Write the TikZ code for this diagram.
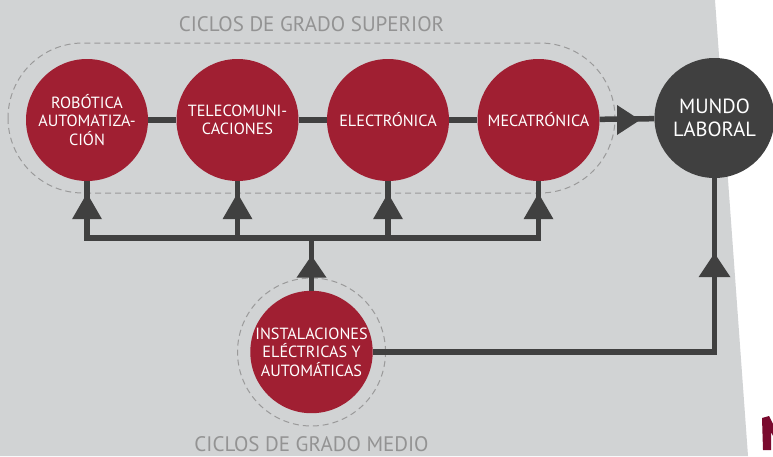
\documentclass[tikz,border=0pt]{standalone}
\usepackage{fontspec}
\setmainfont{PT Sans}
\usetikzlibrary{calc}
\definecolor{bg}{HTML}{D1D3D4}
\definecolor{wine}{HTML}{A01F32}
\definecolor{dark}{HTML}{404040}
\definecolor{dashgray}{HTML}{9A9A9A}
\definecolor{capgray}{HTML}{939393}
\definecolor{maroon}{HTML}{7A0A2E}
\begin{document}
\begin{tikzpicture}[x=1pt,y=-1pt,
 cyc/.style={circle,fill=wine,minimum size=122pt,inner sep=0pt,text=white,align=center,font=\fontsize{16.2}{18.5}\selectfont},
 world/.style={circle,fill=dark,minimum size=120pt,inner sep=0pt,text=white,align=center,font=\fontsize{20.5}{23}\selectfont},
 link/.style={draw=dark,line width=5.5pt},
 tri/.style={fill=dark},
 group/.style={draw=dashgray,line width=1pt,dash pattern=on 6pt off 4pt},
 captxt/.style={text=capgray,font=\fontsize{21}{24}\selectfont,inner sep=0pt,text depth=0pt}]
\useasboundingbox (0,0) rectangle (773,456);
\fill[bg] (0,0) -- (715,0) -- (748,456) -- (0,456) -- cycle;
\fill[maroon] (762,418) -- (769,416) -- (773,424) -- (773,436) -- (771,432) -- (771,450) -- (763,450) -- cycle;
% group frame
\draw[group,rounded corners=75pt] (8,43) rectangle (615,193);
\node[captxt,anchor=base] (sup) at (311.5,31) {CICLOS DE GRADO SUPERIOR};
\node[captxt,anchor=base] (med) at (311.5,451) {CICLOS DE GRADO MEDIO};
% nodes
\node[cyc] (rob) at (87,120) {ROBÓTICA\\AUTOMATIZA-\\CIÓN};
\node[cyc] (tel) at (237.5,120) {TELECOMUNI-\\CACIONES};
\node[cyc] (ele) at (388,120) {ELECTRÓNICA};
\node[cyc] (mec) at (538.5,120) {MECATRÓNICA};
\node[world] (mun) at (714.5,118) {MUNDO\\LABORAL};
\node[cyc] (ins) at (311.5,352) {INSTALACIONES\\ELÉCTRICAS Y\\AUTOMÁTICAS};
\draw[group] (ins) circle[radius=74pt];
% connectors
\coordinate (bus) at (311.5,238);
\draw[link] (rob) -- (tel) -- (ele) -- (mec);
\draw[link] (mec) -- (mun);
\coordinate (tipM) at (640,120);
\fill[tri] (tipM) -- ++(-23,-15) -- ++(0,30) -- cycle;
\draw[link] (rob.south) -- (rob.south |- bus) -- (mec.south |- bus) -- (mec.south);
\draw[link] (tel.south) -- (tel.south |- bus);
\draw[link] (ele.south) -- (ele.south |- bus);
\draw[link] (ins.north) -- (bus);
\foreach \n in {rob,tel,ele,mec}{
  \fill[tri] ($(\n.south)+(0,12)$) -- ++(-15,26) -- ++(30,0) -- cycle;
}
\fill[tri] ($(ins.north)+(0,-35)$) -- ++(-15,22) -- ++(30,0) -- cycle;
\coordinate (corner) at (ins.east -| mun.south);
\draw[link] (ins.east) -- (corner) -- (mun.south);
\fill[tri] ($(mun.south)+(0,75)$) -- ++(-16,24) -- ++(32,0) -- cycle;
\end{tikzpicture}
\end{document}
